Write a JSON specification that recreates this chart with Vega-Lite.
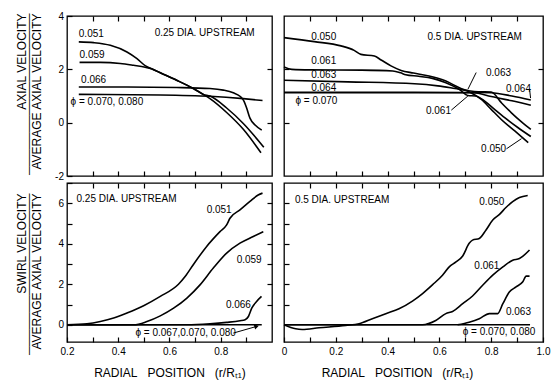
{
  "$schema": "https://vega.github.io/schema/vega-lite/v6.json",
  "background": "white",
  "padding": {"left": 14, "top": 10, "right": 0, "bottom": 0},
  "datasets": {
    "tl": [
      {"s": "0.051", "x": 0.246, "y": 3.03}, {"s": "0.051", "x": 0.304, "y": 3.0}, {"s": "0.051", "x": 0.369, "y": 2.9}, {"s": "0.051", "x": 0.434, "y": 2.65}, {"s": "0.051", "x": 0.473, "y": 2.4}, {"s": "0.051", "x": 0.505, "y": 2.14}, {"s": "0.051", "x": 0.53, "y": 2.02}, {"s": "0.051", "x": 0.564, "y": 1.87}, {"s": "0.051", "x": 0.628, "y": 1.59}, {"s": "0.051", "x": 0.693, "y": 1.28}, {"s": "0.051", "x": 0.732, "y": 1.06}, {"s": "0.051", "x": 0.758, "y": 0.9}, {"s": "0.051", "x": 0.823, "y": 0.38}, {"s": "0.051", "x": 0.888, "y": -0.25}, {"s": "0.051", "x": 0.957, "y": -1.13},
      {"s": "0.059", "x": 0.249, "y": 2.26}, {"s": "0.059", "x": 0.33, "y": 2.26}, {"s": "0.059", "x": 0.408, "y": 2.22}, {"s": "0.059", "x": 0.46, "y": 2.15}, {"s": "0.059", "x": 0.505, "y": 2.08}, {"s": "0.059", "x": 0.53, "y": 2.02}, {"s": "0.059", "x": 0.564, "y": 1.87}, {"s": "0.059", "x": 0.628, "y": 1.59}, {"s": "0.059", "x": 0.693, "y": 1.28}, {"s": "0.059", "x": 0.732, "y": 1.06}, {"s": "0.059", "x": 0.758, "y": 1.0}, {"s": "0.059", "x": 0.823, "y": 0.55}, {"s": "0.059", "x": 0.888, "y": -0.03}, {"s": "0.059", "x": 0.968, "y": -0.92},
      {"s": "0.066", "x": 0.246, "y": 1.34}, {"s": "0.066", "x": 0.434, "y": 1.34}, {"s": "0.066", "x": 0.628, "y": 1.32}, {"s": "0.066", "x": 0.758, "y": 1.28}, {"s": "0.066", "x": 0.81, "y": 1.22}, {"s": "0.066", "x": 0.849, "y": 1.12}, {"s": "0.066", "x": 0.875, "y": 0.99}, {"s": "0.066", "x": 0.891, "y": 0.8}, {"s": "0.066", "x": 0.901, "y": 0.55}, {"s": "0.066", "x": 0.914, "y": 0.17}, {"s": "0.066", "x": 0.934, "y": -0.09}, {"s": "0.066", "x": 0.96, "y": -0.28},
      {"s": "0.070", "x": 0.246, "y": 1.06}, {"s": "0.070", "x": 0.564, "y": 1.04}, {"s": "0.070", "x": 0.758, "y": 0.99}, {"s": "0.070", "x": 0.888, "y": 0.9}, {"s": "0.070", "x": 0.963, "y": 0.83}
    ],
    "tlLab": [
      {"t": "0.051", "x": 0.246, "y": 3.32},
      {"t": "0.059", "x": 0.249, "y": 2.52},
      {"t": "0.066", "x": 0.255, "y": 1.59},
      {"t": "ϕ = 0.070, 0.080", "x": 0.214, "y": 0.79},
      {"t": "0.25 DIA. UPSTREAM", "x": 0.542, "y": 3.35}
    ],
    "tr": [
      {"s": "0.050", "x": 0.0, "y": 3.19}, {"s": "0.050", "x": 0.117, "y": 3.04}, {"s": "0.050", "x": 0.22, "y": 2.88}, {"s": "0.050", "x": 0.271, "y": 2.71}, {"s": "0.050", "x": 0.297, "y": 2.56}, {"s": "0.050", "x": 0.349, "y": 2.5}, {"s": "0.050", "x": 0.375, "y": 2.35}, {"s": "0.050", "x": 0.413, "y": 2.13}, {"s": "0.050", "x": 0.452, "y": 1.96}, {"s": "0.050", "x": 0.5, "y": 1.86}, {"s": "0.050", "x": 0.56, "y": 1.75}, {"s": "0.050", "x": 0.625, "y": 1.56}, {"s": "0.050", "x": 0.677, "y": 1.31}, {"s": "0.050", "x": 0.71, "y": 1.18}, {"s": "0.050", "x": 0.762, "y": 0.87}, {"s": "0.050", "x": 0.8, "y": 0.5}, {"s": "0.050", "x": 0.839, "y": 0.12}, {"s": "0.050", "x": 0.891, "y": -0.31}, {"s": "0.050", "x": 0.943, "y": -0.75},
      {"s": "0.061", "x": 0.0, "y": 2.09}, {"s": "0.061", "x": 0.03, "y": 2.0}, {"s": "0.061", "x": 0.1, "y": 1.98}, {"s": "0.061", "x": 0.3, "y": 1.97}, {"s": "0.061", "x": 0.42, "y": 1.94}, {"s": "0.061", "x": 0.45, "y": 1.87}, {"s": "0.061", "x": 0.47, "y": 1.8}, {"s": "0.061", "x": 0.52, "y": 1.74}, {"s": "0.061", "x": 0.573, "y": 1.66}, {"s": "0.061", "x": 0.625, "y": 1.5}, {"s": "0.061", "x": 0.677, "y": 1.25}, {"s": "0.061", "x": 0.71, "y": 1.02}, {"s": "0.061", "x": 0.74, "y": 1.0}, {"s": "0.061", "x": 0.775, "y": 0.81}, {"s": "0.061", "x": 0.813, "y": 0.5}, {"s": "0.061", "x": 0.852, "y": 0.19}, {"s": "0.061", "x": 0.904, "y": -0.19}, {"s": "0.061", "x": 0.953, "y": -0.52},
      {"s": "0.063", "x": 0.0, "y": 1.59}, {"s": "0.063", "x": 0.246, "y": 1.53}, {"s": "0.063", "x": 0.504, "y": 1.46}, {"s": "0.063", "x": 0.594, "y": 1.38}, {"s": "0.063", "x": 0.66, "y": 1.28}, {"s": "0.063", "x": 0.71, "y": 1.2}, {"s": "0.063", "x": 0.75, "y": 1.16}, {"s": "0.063", "x": 0.8, "y": 1.15}, {"s": "0.063", "x": 0.839, "y": 0.75}, {"s": "0.063", "x": 0.878, "y": 0.37}, {"s": "0.063", "x": 0.917, "y": 0.03}, {"s": "0.063", "x": 0.953, "y": -0.25},
      {"s": "0.064", "x": 0.0, "y": 1.14}, {"s": "0.064", "x": 0.5, "y": 1.14}, {"s": "0.064", "x": 0.75, "y": 1.13}, {"s": "0.064", "x": 0.8, "y": 1.12}, {"s": "0.064", "x": 0.88, "y": 1.0}, {"s": "0.064", "x": 0.953, "y": 0.85},
      {"s": "0.070", "x": 0.0, "y": 1.12}, {"s": "0.070", "x": 0.5, "y": 1.12}, {"s": "0.070", "x": 0.73, "y": 1.12}, {"s": "0.070", "x": 0.8, "y": 0.98}, {"s": "0.070", "x": 0.88, "y": 0.82}, {"s": "0.070", "x": 0.953, "y": 0.65}
    ],
    "trLab": [
      {"t": "0.050", "x": 0.105, "y": 3.23},
      {"t": "0.5 DIA. UPSTREAM", "x": 0.554, "y": 3.23},
      {"t": "0.061", "x": 0.105, "y": 2.31},
      {"t": "0.063", "x": 0.105, "y": 1.78},
      {"t": "0.064", "x": 0.105, "y": 1.31},
      {"t": "ϕ = 0.070", "x": 0.044, "y": 0.81},
      {"t": "0.063", "x": 0.78, "y": 1.86},
      {"t": "0.064", "x": 0.857, "y": 1.25},
      {"t": "0.061", "x": 0.548, "y": 0.44},
      {"t": "0.050", "x": 0.761, "y": -1.0}
    ],
    "trLead": [
      {"x": 0.742, "y": 1.88, "x2": 0.71, "y2": 1.25},
      {"x": 0.948, "y": 1.27, "x2": 0.952, "y2": 0.92},
      {"x": 0.646, "y": 0.47, "x2": 0.71, "y2": 1.0},
      {"x": 0.859, "y": -0.98, "x2": 0.917, "y2": -0.6}
    ],
    "bl": [
      {"s": "0.051", "x": 0.2, "y": 0}, {"s": "0.051", "x": 0.278, "y": 0.05}, {"s": "0.051", "x": 0.33, "y": 0.16}, {"s": "0.051", "x": 0.382, "y": 0.33}, {"s": "0.051", "x": 0.434, "y": 0.58}, {"s": "0.051", "x": 0.499, "y": 0.94}, {"s": "0.051", "x": 0.564, "y": 1.4}, {"s": "0.051", "x": 0.635, "y": 2.0}, {"s": "0.051", "x": 0.661, "y": 2.38}, {"s": "0.051", "x": 0.694, "y": 2.99}, {"s": "0.051", "x": 0.745, "y": 3.87}, {"s": "0.051", "x": 0.797, "y": 4.6}, {"s": "0.051", "x": 0.823, "y": 4.93}, {"s": "0.051", "x": 0.836, "y": 5.26}, {"s": "0.051", "x": 0.875, "y": 5.67}, {"s": "0.051", "x": 0.914, "y": 6.09}, {"s": "0.051", "x": 0.946, "y": 6.41}, {"s": "0.051", "x": 0.963, "y": 6.5},
      {"s": "0.059", "x": 0.2, "y": 0}, {"s": "0.059", "x": 0.46, "y": 0}, {"s": "0.059", "x": 0.512, "y": 0.16}, {"s": "0.059", "x": 0.564, "y": 0.44}, {"s": "0.059", "x": 0.616, "y": 0.82}, {"s": "0.059", "x": 0.668, "y": 1.32}, {"s": "0.059", "x": 0.719, "y": 1.97}, {"s": "0.059", "x": 0.771, "y": 2.8}, {"s": "0.059", "x": 0.823, "y": 3.54}, {"s": "0.059", "x": 0.875, "y": 4.03}, {"s": "0.059", "x": 0.927, "y": 4.36}, {"s": "0.059", "x": 0.966, "y": 4.6},
      {"s": "0.066", "x": 0.2, "y": 0}, {"s": "0.066", "x": 0.668, "y": 0}, {"s": "0.066", "x": 0.758, "y": 0.05}, {"s": "0.066", "x": 0.823, "y": 0.12}, {"s": "0.066", "x": 0.875, "y": 0.2}, {"s": "0.066", "x": 0.895, "y": 0.25}, {"s": "0.066", "x": 0.908, "y": 0.41}, {"s": "0.066", "x": 0.921, "y": 0.82}, {"s": "0.066", "x": 0.94, "y": 1.15}, {"s": "0.066", "x": 0.959, "y": 1.4},
      {"s": "0.070", "x": 0.2, "y": 0}, {"s": "0.070", "x": 0.96, "y": 0}
    ],
    "blLab": [
      {"t": "0.25 DIA. UPSTREAM", "x": 0.237, "y": 6.2},
      {"t": "0.051", "x": 0.745, "y": 5.67},
      {"t": "0.059", "x": 0.862, "y": 3.2},
      {"t": "0.066", "x": 0.82, "y": 1.0},
      {"t": "ϕ = 0.067,0.070, 0.080", "x": 0.467, "y": -0.43}
    ],
    "blLead": [
      {"x": 0.849, "y": -0.41, "x2": 0.94, "y2": -0.08}
    ],
    "blArrow": [
      {"x": 0.94, "y": -0.08}
    ],
    "br": [
      {"s": "0.050", "x": 0.0, "y": 0}, {"s": "0.050", "x": 0.045, "y": -0.2}, {"s": "0.050", "x": 0.07, "y": -0.23}, {"s": "0.050", "x": 0.135, "y": -0.15}, {"s": "0.050", "x": 0.238, "y": -0.03}, {"s": "0.050", "x": 0.29, "y": 0.05}, {"s": "0.050", "x": 0.341, "y": 0.3}, {"s": "0.050", "x": 0.393, "y": 0.55}, {"s": "0.050", "x": 0.444, "y": 0.79}, {"s": "0.050", "x": 0.496, "y": 1.17}, {"s": "0.050", "x": 0.535, "y": 1.54}, {"s": "0.050", "x": 0.574, "y": 1.98}, {"s": "0.050", "x": 0.612, "y": 2.45}, {"s": "0.050", "x": 0.638, "y": 2.86}, {"s": "0.050", "x": 0.664, "y": 3.1}, {"s": "0.050", "x": 0.69, "y": 3.4}, {"s": "0.050", "x": 0.715, "y": 4.02}, {"s": "0.050", "x": 0.728, "y": 4.18}, {"s": "0.050", "x": 0.754, "y": 4.26}, {"s": "0.050", "x": 0.78, "y": 4.68}, {"s": "0.050", "x": 0.806, "y": 5.17}, {"s": "0.050", "x": 0.832, "y": 5.45}, {"s": "0.050", "x": 0.857, "y": 5.79}, {"s": "0.050", "x": 0.883, "y": 6.08}, {"s": "0.050", "x": 0.909, "y": 6.28}, {"s": "0.050", "x": 0.941, "y": 6.38},
      {"s": "0.061", "x": 0.0, "y": 0}, {"s": "0.061", "x": 0.535, "y": 0}, {"s": "0.061", "x": 0.586, "y": 0.21}, {"s": "0.061", "x": 0.625, "y": 0.55}, {"s": "0.061", "x": 0.651, "y": 0.66}, {"s": "0.061", "x": 0.69, "y": 1.04}, {"s": "0.061", "x": 0.728, "y": 1.42}, {"s": "0.061", "x": 0.767, "y": 1.95}, {"s": "0.061", "x": 0.806, "y": 2.45}, {"s": "0.061", "x": 0.845, "y": 2.86}, {"s": "0.061", "x": 0.883, "y": 3.19}, {"s": "0.061", "x": 0.909, "y": 3.27}, {"s": "0.061", "x": 0.948, "y": 3.69},
      {"s": "0.063", "x": 0.67, "y": 0}, {"s": "0.063", "x": 0.715, "y": 0.13}, {"s": "0.063", "x": 0.754, "y": 0.3}, {"s": "0.063", "x": 0.793, "y": 0.55}, {"s": "0.063", "x": 0.825, "y": 0.55}, {"s": "0.063", "x": 0.845, "y": 1.04}, {"s": "0.063", "x": 0.87, "y": 1.62}, {"s": "0.063", "x": 0.896, "y": 1.87}, {"s": "0.063", "x": 0.922, "y": 2.12}, {"s": "0.063", "x": 0.935, "y": 2.4}, {"s": "0.063", "x": 0.948, "y": 2.4},
      {"s": "0.070", "x": 0.0, "y": 0}, {"s": "0.070", "x": 0.95, "y": 0}
    ],
    "brLab": [
      {"t": "0.5 DIA. UPSTREAM", "x": 0.042, "y": 6.15},
      {"t": "0.050", "x": 0.754, "y": 6.06},
      {"t": "0.061", "x": 0.735, "y": 2.9},
      {"t": "0.063", "x": 0.857, "y": 0.63},
      {"t": "ϕ = 0.070, 0.080", "x": 0.69, "y": -0.36}
    ]
  },
  "columns": 2,
  "align": "each",
  "bounds": "flush",
  "spacing": {"row": 7, "column": 12},
  "concat": [
    {
      "width": 205, "height": 160,
      "layer": [
        {
          "data": {"name": "tl"},
          "mark": {"type": "line", "color": "black", "strokeWidth": 1.6, "interpolate": "monotone"},
          "encoding": {
            "x": {"field": "x", "type": "quantitative", "scale": {"domain": [0.2, 1.0], "nice": false, "zero": false},
                  "axis": {"orient": "bottom", "values": [0.3, 0.4, 0.5, 0.6, 0.7, 0.8, 0.9], "labels": false, "title": null}},
            "y": {"field": "y", "type": "quantitative", "scale": {"domain": [-2, 4], "nice": false, "zero": false},
                  "axis": {"orient": "left", "values": [-2, 0, 2, 4], "labelExpr": "datum.value < 0 ? '-2' : datum.label",
                           "minExtent": 19, "maxExtent": 19, "titlePadding": 5, "titleAlign": "right", "titleY": -3, "titleLineHeight": 7.5,
                           "title": ["AXIAL VELOCITY", "───────────────────", "AVERAGE AXIAL VELOCITY"]}},
            "detail": {"field": "s"}
          }
        },
        {
          "data": {"name": "tlLab"},
          "mark": {"type": "text", "align": "left", "baseline": "middle", "fontSize": 10},
          "encoding": {
            "x": {"field": "x", "type": "quantitative", "scale": {"domain": [0.2, 1.0], "nice": false, "zero": false},
                  "axis": {"orient": "top", "values": [0.3, 0.4, 0.5, 0.6, 0.7, 0.8, 0.9], "labels": false, "title": null}},
            "y": {"field": "y", "type": "quantitative", "scale": {"domain": [-2, 4], "nice": false, "zero": false},
                  "axis": {"orient": "right", "values": [0, 2], "labels": false, "title": null}},
            "text": {"field": "t"}
          }
        }
      ],
      "resolve": {"axis": {"x": "independent", "y": "independent"}}
    },
    {
      "width": 259, "height": 160,
      "layer": [
        {
          "data": {"name": "tr"},
          "mark": {"type": "line", "color": "black", "interpolate": "monotone"},
          "encoding": {
            "x": {"field": "x", "type": "quantitative", "scale": {"domain": [0, 1.0], "nice": false, "zero": false},
                  "axis": {"orient": "bottom", "values": [0.1, 0.2, 0.3, 0.4, 0.5, 0.6, 0.7, 0.8, 0.9], "labels": false, "title": null}},
            "y": {"field": "y", "type": "quantitative", "scale": {"domain": [-2, 4], "nice": false, "zero": false},
                  "axis": {"orient": "left", "values": [0, 2], "labels": false, "title": null, "minExtent": 0, "maxExtent": 0}},
            "detail": {"field": "s"},
            "strokeWidth": {"field": "s", "type": "nominal", "legend": null,
                            "scale": {"domain": ["0.050", "0.061", "0.063", "0.064", "0.070"], "range": [1.6, 1.6, 1.6, 1.8, 3]}}
          }
        },
        {
          "data": {"name": "trLead"},
          "mark": {"type": "rule", "color": "black", "strokeWidth": 1},
          "encoding": {
            "x": {"field": "x", "type": "quantitative", "scale": {"domain": [0, 1.0], "nice": false, "zero": false}, "axis": null},
            "y": {"field": "y", "type": "quantitative", "scale": {"domain": [-2, 4], "nice": false, "zero": false}, "axis": null},
            "x2": {"field": "x2"},
            "y2": {"field": "y2"}
          }
        },
        {
          "data": {"name": "trLab"},
          "mark": {"type": "text", "align": "left", "baseline": "middle", "fontSize": 10},
          "encoding": {
            "x": {"field": "x", "type": "quantitative", "scale": {"domain": [0, 1.0], "nice": false, "zero": false},
                  "axis": {"orient": "top", "values": [0.1, 0.2, 0.3, 0.4, 0.5, 0.6, 0.7, 0.8, 0.9], "labels": false, "title": null}},
            "y": {"field": "y", "type": "quantitative", "scale": {"domain": [-2, 4], "nice": false, "zero": false},
                  "axis": {"orient": "right", "values": [0, 2], "labels": false, "title": null}},
            "text": {"field": "t"}
          }
        }
      ],
      "resolve": {"axis": {"x": "independent", "y": "independent"}}
    },
    {
      "width": 205, "height": 159,
      "layer": [
        {
          "data": {"name": "bl"},
          "mark": {"type": "line", "color": "black", "strokeWidth": 1.6, "interpolate": "monotone"},
          "encoding": {
            "x": {"field": "x", "type": "quantitative", "scale": {"domain": [0.2, 1.0], "nice": false, "zero": false},
                  "axis": {"orient": "bottom", "values": [0.2, 0.3, 0.4, 0.5, 0.6, 0.7, 0.8, 0.9],
                           "labelExpr": "(round(datum.value*10) % 2 == 0 && datum.value < 0.95) ? format(datum.value, '.1f') : ''",
                           "labelPadding": 9.5, "titlePadding": 11, "title": "RADIAL\u00a0\u00a0\u00a0POSITION\u00a0\u00a0\u00a0(r/R\u209c\u2081)"}},
            "y": {"field": "y", "type": "quantitative", "scale": {"domain": [-0.85, 7], "nice": false, "zero": false},
                  "axis": {"orient": "left", "values": [0, 1, 2, 3, 4, 5, 6, 7], "labelExpr": "datum.value % 2 == 0 ? datum.label : ''",
                           "minExtent": 19, "maxExtent": 19, "titlePadding": 5, "titleAlign": "right", "titleY": 10, "titleLineHeight": 7.5,
                           "title": ["SWIRL VELOCITY", "───────────────────", "AVERAGE AXIAL VELOCITY"]}},
            "detail": {"field": "s"}
          }
        },
        {
          "data": {"name": "blLead"},
          "mark": {"type": "rule", "color": "black", "strokeWidth": 1},
          "encoding": {
            "x": {"field": "x", "type": "quantitative", "scale": {"domain": [0.2, 1.0], "nice": false, "zero": false}, "axis": null},
            "y": {"field": "y", "type": "quantitative", "scale": {"domain": [-0.85, 7], "nice": false, "zero": false}, "axis": null},
            "x2": {"field": "x2"},
            "y2": {"field": "y2"}
          }
        },
        {
          "data": {"name": "blArrow"},
          "mark": {"type": "point", "shape": "triangle-right", "size": 28, "filled": true, "color": "black", "opacity": 1, "angle": -16},
          "encoding": {
            "x": {"field": "x", "type": "quantitative", "scale": {"domain": [0.2, 1.0], "nice": false, "zero": false}, "axis": null},
            "y": {"field": "y", "type": "quantitative", "scale": {"domain": [-0.85, 7], "nice": false, "zero": false}, "axis": null}
          }
        },
        {
          "data": {"name": "blLab"},
          "mark": {"type": "text", "align": "left", "baseline": "middle", "fontSize": 10},
          "encoding": {
            "x": {"field": "x", "type": "quantitative", "scale": {"domain": [0.2, 1.0], "nice": false, "zero": false},
                  "axis": {"orient": "top", "values": [0.3, 0.4, 0.5, 0.6, 0.7, 0.8, 0.9], "labels": false, "title": null}},
            "y": {"field": "y", "type": "quantitative", "scale": {"domain": [-0.85, 7], "nice": false, "zero": false},
                  "axis": {"orient": "right", "values": [1, 2, 3, 4, 5, 6], "labels": false, "title": null}},
            "text": {"field": "t"}
          }
        }
      ],
      "resolve": {"axis": {"x": "independent", "y": "independent"}}
    },
    {
      "width": 259, "height": 159,
      "layer": [
        {
          "data": {"name": "br"},
          "mark": {"type": "line", "color": "black", "strokeWidth": 1.6, "interpolate": "monotone"},
          "encoding": {
            "x": {"field": "x", "type": "quantitative", "scale": {"domain": [0, 1.0], "nice": false, "zero": false},
                  "axis": {"orient": "bottom", "values": [0, 0.1, 0.2, 0.3, 0.4, 0.5, 0.6, 0.7, 0.8, 0.9, 1.0],
                           "labelExpr": "datum.value == 0 ? '0' : (round(datum.value*10) % 2 == 0 ? format(datum.value, '.1f') : '')",
                           "labelPadding": 9.5, "titlePadding": 11, "titleX": 113, "title": "RADIAL\u00a0\u00a0\u00a0POSITION\u00a0\u00a0\u00a0(r/R\u209c\u2081)"}},
            "y": {"field": "y", "type": "quantitative", "scale": {"domain": [-0.85, 7], "nice": false, "zero": false},
                  "axis": {"orient": "left", "values": [1, 2, 3, 4, 5, 6], "labels": false, "title": null, "minExtent": 0, "maxExtent": 0}},
            "detail": {"field": "s"}
          }
        },
        {
          "data": {"name": "brLab"},
          "mark": {"type": "text", "align": "left", "baseline": "middle", "fontSize": 10},
          "encoding": {
            "x": {"field": "x", "type": "quantitative", "scale": {"domain": [0, 1.0], "nice": false, "zero": false},
                  "axis": {"orient": "top", "values": [0.1, 0.2, 0.3, 0.4, 0.5, 0.6, 0.7, 0.8, 0.9], "labels": false, "title": null}},
            "y": {"field": "y", "type": "quantitative", "scale": {"domain": [-0.85, 7], "nice": false, "zero": false}, "axis": null},
            "text": {"field": "t"}
          }
        }
      ],
      "resolve": {"axis": {"x": "independent", "y": "independent"}}
    }
  ],
  "config": {
    "view": {"stroke": "black", "strokeWidth": 1.3},
    "font": "Liberation Sans",
    "axis": {"domain": false, "grid": false, "ticks": true, "tickSize": -5, "tickColor": "black", "tickWidth": 1.2,
             "labelFont": "Liberation Sans", "labelFontSize": 10, "labelColor": "black", "labelPadding": 8.5,
             "labelFlush": false, "labelOverlap": false,
             "titleFont": "Liberation Sans", "titleFontSize": 12, "titleFontWeight": "normal", "titleColor": "black"},
    "text": {"font": "Liberation Sans", "color": "black"}
  }
}
